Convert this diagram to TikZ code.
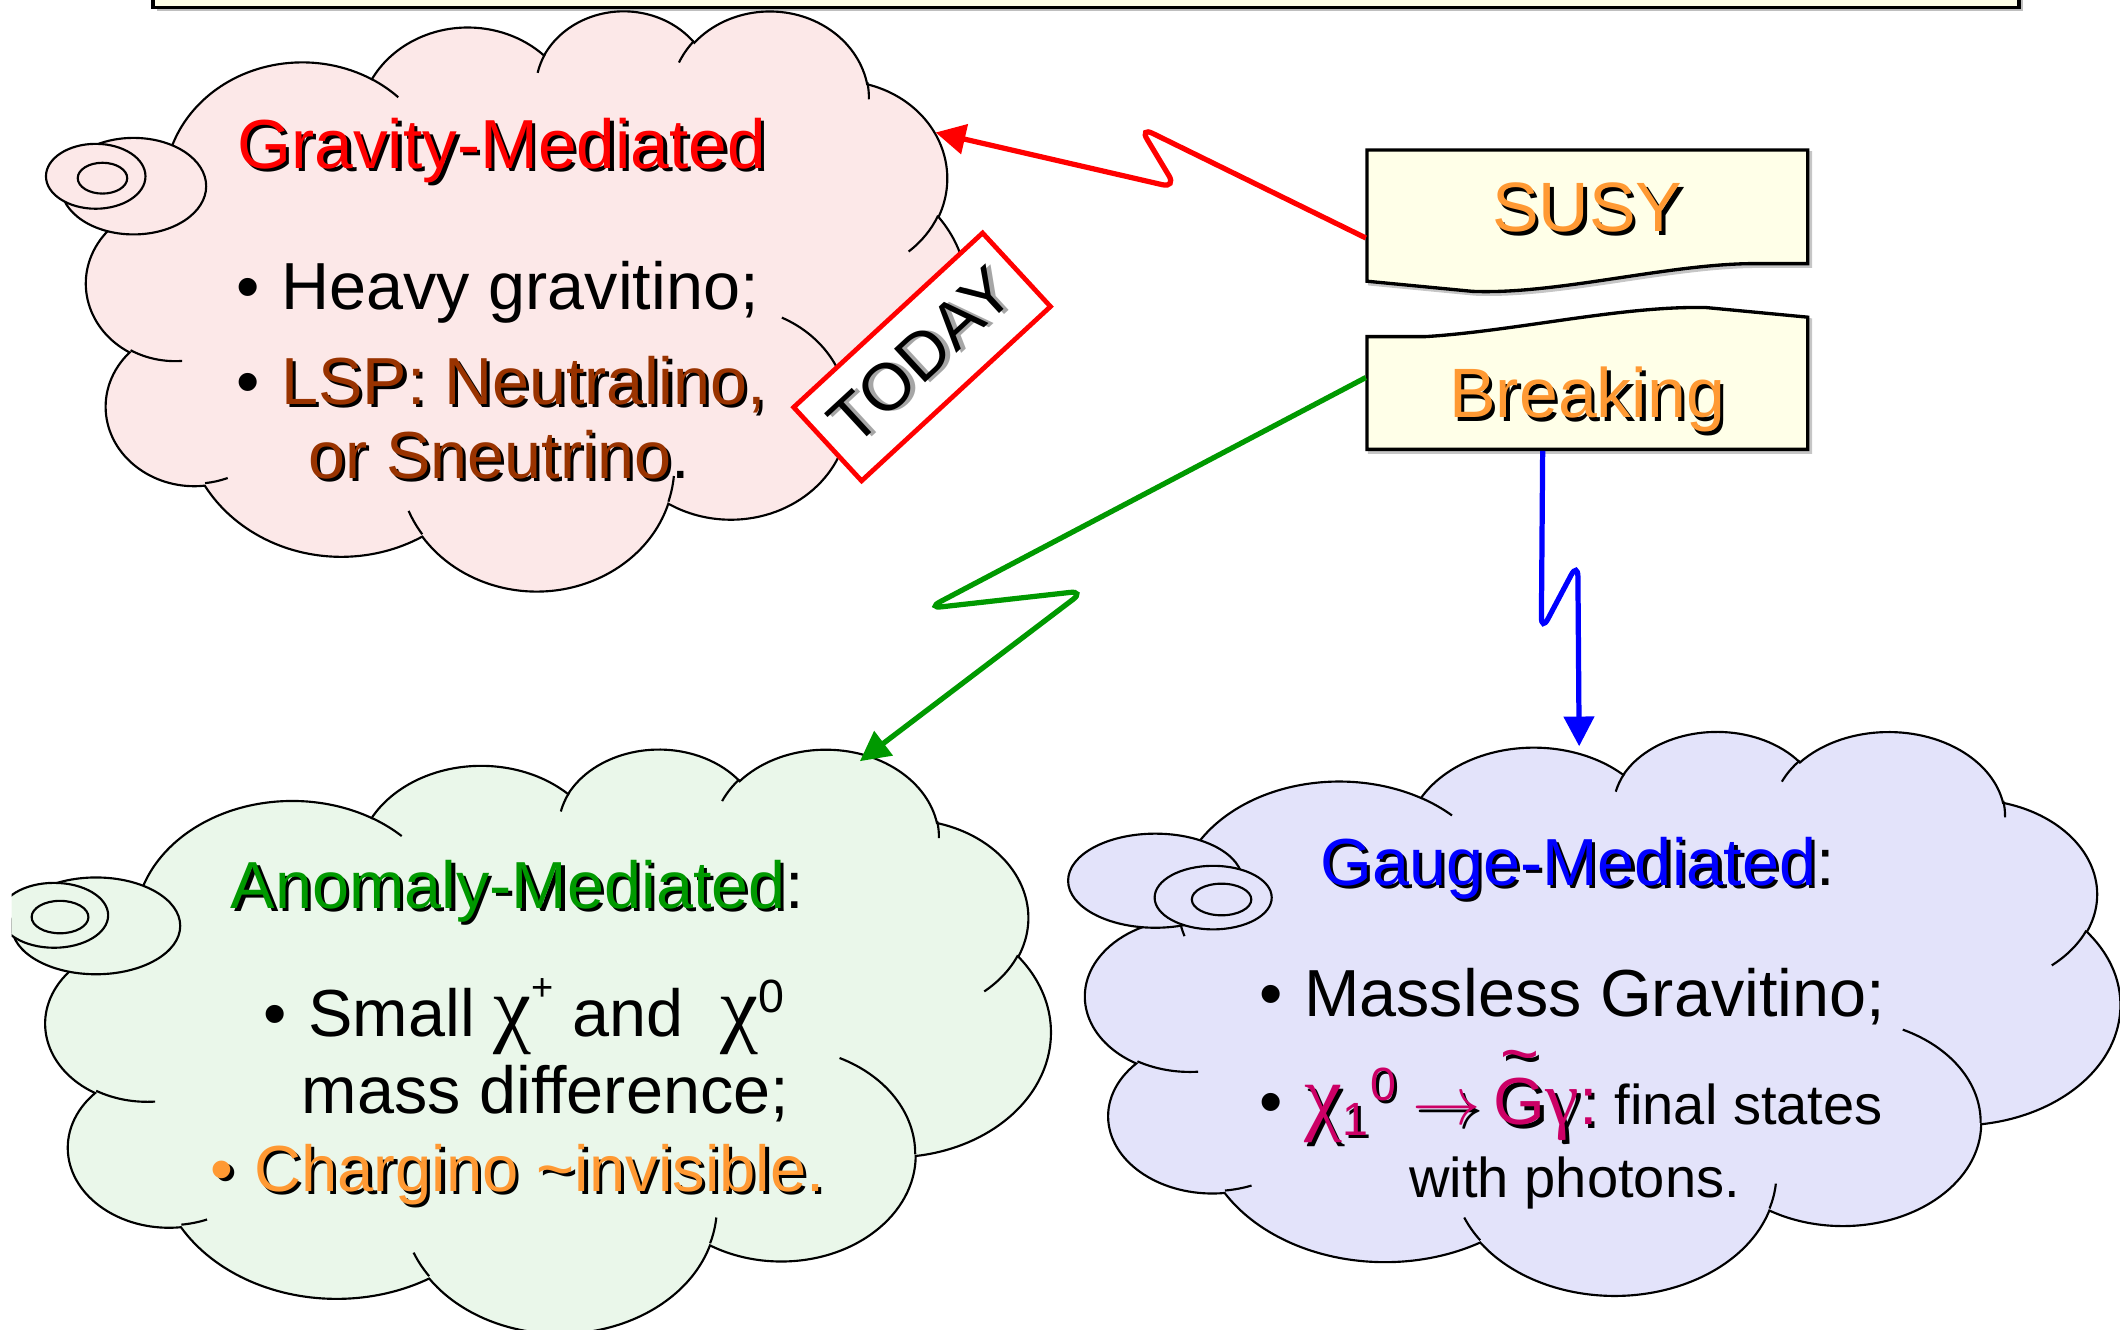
\documentclass[tikz,border=0pt]{standalone}
\usepackage{fontspec}
\setmainfont{Liberation Sans}
\newfontfamily\grk{Liberation Serif}
\usetikzlibrary{arrows.meta,calc}

\definecolor{gravfill}{RGB}{252,232,232}
\definecolor{anomfill}{RGB}{234,247,234}
\definecolor{gaugefill}{RGB}{227,227,250}
\definecolor{boxfill}{RGB}{255,255,232}
\definecolor{lspbrown}{RGB}{153,51,0}
\definecolor{amsbgreen}{RGB}{0,153,0}
\definecolor{susyorange}{RGB}{255,153,51}
\definecolor{neutmag}{RGB}{204,0,102}

% text with a small drop shadow
\newcommand{\shd}[3][black]{\makebox[0pt][l]{\kern0.7pt\raisebox{-0.7pt}{\textcolor{#1}{#3}}}\textcolor{#2}{#3}}
\newcommand{\bul}{\llap{\textbullet\kern0.32em}}
\newcommand{\chig}{{\grk\fontsize{18pt}{18pt}\selectfont χ}}
\newcommand{\tildeG}{\makebox[0pt][l]{\makebox[0.778em]{\raisebox{0.72em}{\textasciitilde}}}G}
\newcommand{\upsmall}[1]{\raisebox{0.55em}{\fontsize{8pt}{8pt}\selectfont #1}}

\tikzset{
  cloudline/.style={draw=black, line width=0.45pt},
  bubble/.style={draw=black, line width=0.45pt},
  zig/.style={line width=1.1pt, rounded corners=3pt, -{Triangle[length=0.22cm, width=0.22cm]}},
  txt/.style={anchor=base west, inner sep=0pt, font=\fontsize{14pt}{17pt}\selectfont},
  smalltxt/.style={txt, font=\fontsize{11.8pt}{14pt}\selectfont},
  boxtext/.style={minimum width=3.26cm, minimum height=0.84cm, inner sep=0pt,
    text height=10.5pt, text depth=0pt, font=\fontsize{14.7pt}{17pt}\selectfont},
  todaybox/.style={draw=red, line width=1pt, fill=white, minimum width=1.9cm,
    minimum height=0.74cm, inner sep=0pt, font=\fontsize{14pt}{17pt}\selectfont},
}

% cloud outline drawn in a 432 x 432 box, stretched to #3 x #4 at (#1,#2)
\newcommand{\drawcloud}[5]{%
  \begin{scope}[shift={(#1,#2)}]
    \pgfmathsetmacro{\sxA}{#3/432}
    \pgfmathsetmacro{\syA}{#4/432}
    \draw[cloudline, fill=#5] ({39.00*\sxA},{143.70*\syA})
      \foreach \rxA/\ryA/\stA/\swA in {67.53/91.90/-190.4875/123.7805,
        53.33/72.67/-144.1024/89.9452, 43.65/59.45/-145.8079/99.7230,
        48.57/65.95/-130.9861/117.2417, 53.33/72.73/-78.7089/109.0269,
        67.75/92.20/-46.2673/130.2690, 57.85/78.67/0.6250/114.0333,
        67.52/92.15/22.4516/115.1726, 77.20/105.43/66.2426/75.7110,
        43.60/59.18/-274.9421/146.7356, 43.45/59.45/-246.8285/152.5189}
      { arc[x radius={\rxA*\sxA}, y radius={\ryA*\syA}, start angle={vang(\stA,\rxA,\ryA)},
          delta angle={vswp(\stA,\swA,\rxA,\ryA)}] } -- cycle;
    \foreach \xA/\yA/\rxA/\ryA/\stA/\swA in {46.93/261.77/43.45/59.45/86.742/26.4295,
        69.28/348.99/43.60/59.18/73.6105/11.4475, 164.78/390.90/67.52/92.15/137.6242/14.0811,
        288.27/347.51/67.52/92.15/6.4533/15.9984, 341.29/229.54/57.85/78.67/-70.2924/70.9174,
        417.98/153.54/53.33/72.73/30.3180/27.7515, 383.24/54.26/48.57/65.95/-13.7443/14.8589,
        290.78/39.52/48.57/65.95/-149.1815/18.1954, 221.41/47.20/43.65/59.45/-163.4943/17.6864,
        140.00/51.92/67.53/91.90/-66.7070/12.3194, 41.27/157.89/67.53/91.90/157.6544/11.8582}
      \draw[cloudline] ({\xA*\sxA},{\yA*\syA}) arc[x radius={\rxA*\sxA}, y radius={\ryA*\syA},
          start angle={vang(\stA,\rxA,\ryA)}, delta angle={vswp(\stA,\swA,\rxA,\ryA)}];
  \end{scope}}

\begin{document}
\begin{tikzpicture}[x=0.01cm, y=-0.01cm,
    declare function={vang(\angA,\prx,\pry)=atan2(\prx*sin(\angA),\pry*cos(\angA));
      vswp(\angA,\swpA,\prx,\pry)=vang(\angA+\swpA,\prx,\pry)-vang(\angA,\prx,\pry)
        -360*round((vang(\angA+\swpA,\prx,\pry)-vang(\angA,\prx,\pry)-\swpA)/360);}]
  \useasboundingbox (0,0) rectangle (1568,983);
  \clip (0,0) rectangle (1568,983);

  % frame of the slide title
  \fill[gray!50] (116,-20) rectangle (1496,8);
  \draw[fill=boxfill, line width=0.8pt] (113,-20) rectangle (1493,5.5);

  % gravity cloud
  \drawcloud{64}{7}{651}{429}{gravfill}
  \draw[bubble, fill=gravfill] (98.8,137.7) ellipse [x radius=53.7, y radius=35.7];
  \draw[bubble, fill=gravfill] (70.8,130.4) ellipse [x radius=36.8, y radius=24];
  \draw[bubble, fill=gravfill] (75.8,131.8) ellipse [x radius=18.3, y radius=11.4];

  % anomaly cloud
  \drawcloud{34}{553}{743}{432}{anomfill}
  \begin{scope}
    \clip (8.6,0) rectangle (1568,983);
    \draw[bubble, fill=anomfill] (71,684.8) ellipse [x radius=62.3, y radius=35.8];
    \draw[bubble, fill=anomfill] (40,677) ellipse [x radius=40, y radius=24];
    \draw[bubble, fill=anomfill] (44.4,678.3) ellipse [x radius=21, y radius=12];
  \end{scope}

  % gauge cloud
  \drawcloud{803}{540}{765}{417}{gaugefill}
  \draw[bubble, fill=gaugefill] (854.5,651.4) ellipse [x radius=64.5, y radius=34.8];
  \draw[bubble, fill=gaugefill] (897.3,663.9) ellipse [x radius=43.3, y radius=23.5];
  \draw[bubble, fill=gaugefill] (903.5,665.3) ellipse [x radius=22, y radius=11.7];

  % texts in the clouds
  \node[txt, font=\fontsize{14.6pt}{17pt}\selectfont] (gravtitle) at (175,124.7) {\shd{red}{Gravity-Mediated}};
  \node[txt] (gravheavy) at (207.5,229) {\bul Heavy gravitino;};
  \node[txt] (gravlsp) at (207.5,299) {\bul\shd{lspbrown}{LSP: Neutralino,}};
  \node[txt] (gravsneu) at (227.5,354) {\shd{lspbrown}{or Sneutrino}.};

  \node[txt] (anomtitle) at (170,672) {\shd{amsbgreen}{Anomaly-Mediated}:};
  \node[txt] (anomsmall) at (227.5,767) {\bul Small \chig\upsmall{+} and\ \ \chig\textsuperscript{0}};
  \node[txt] (anommass) at (222.5,823.4) {mass difference;};
  \node[txt, font=\fontsize{13.7pt}{17pt}\selectfont] (anomchar) at (187.5,881.2)
    {\shd{susyorange}{\bul Chargino \textasciitilde invisible.}};

  \node[txt] (gaugetitle) at (976,654.6) {\shd{blue}{Gauge-Mediated}:};
  \node[txt] (gaugemass) at (964,752) {\bul Massless Gravitino;};
  \node[txt] (gaugedecay) at (964,832)
    {\bul\shd{neutmag}{\chig\textsubscript{1}\textsuperscript{0}\hspace{0.2em}$\rightarrow$\hspace{0.2em}\tildeG{\grk\fontsize{16pt}{16pt}\selectfont γ}:}%
     \fontsize{11.8pt}{14pt}\selectfont\hspace{0.3em}final states};
  \node[smalltxt] (gaugephot) at (1041.7,886) {with photons.};

  % SUSY and Breaking boxes
  \foreach \dd/\cc/\ee in {2/gray!45/gray!45, 0/boxfill/black}
    \draw[shift={(\dd,\dd)}, fill=\cc, draw=\ee, line width=0.7pt]
      (1011,111) -- (1337,111) -- (1337,195) -- (1294,195)
      .. controls (1230,196) and (1150,218) .. (1089,215.5) -- (1011,208) -- cycle;
  \foreach \dd/\cc/\ee in {2/gray!45/gray!45, 0/boxfill/black}
    \draw[shift={(\dd,\dd)}, fill=\cc, draw=\ee, line width=0.7pt]
      (1011,249) -- (1054,249) .. controls (1120,245) and (1200,226) .. (1262,227.5)
      -- (1337,234.6) -- (1337,332.4) -- (1011,332.4) -- cycle;
  \node[boxtext] (susy) at (1174,153) {\shd{susyorange}{SUSY}};
  \node[boxtext] (breaking) at (1174,290.7) {\shd{susyorange}{Breaking}};

  % zigzag arrows
  \coordinate (gravtip) at (692,98);
  \coordinate (anomtip) at (636,563);
  \coordinate (gaugetip) at (1168,552);
  \draw[zig, red] (susy.188) -- (843,94) -- (870,139) -- (gravtip);
  \draw[zig, amsbgreen] (breaking.176) -- (686,450) -- (802,437) -- (anomtip);
  \draw[zig, blue] ($(breaking.south)+(-33,0)$) -- (1140,467) -- (1167,416) -- (gaugetip);

  % stamp
  \node[todaybox, rotate=42.7] (today) at (682,264) {\shd[gray!70]{black}{TODAY}};
\end{tikzpicture}
\end{document}
